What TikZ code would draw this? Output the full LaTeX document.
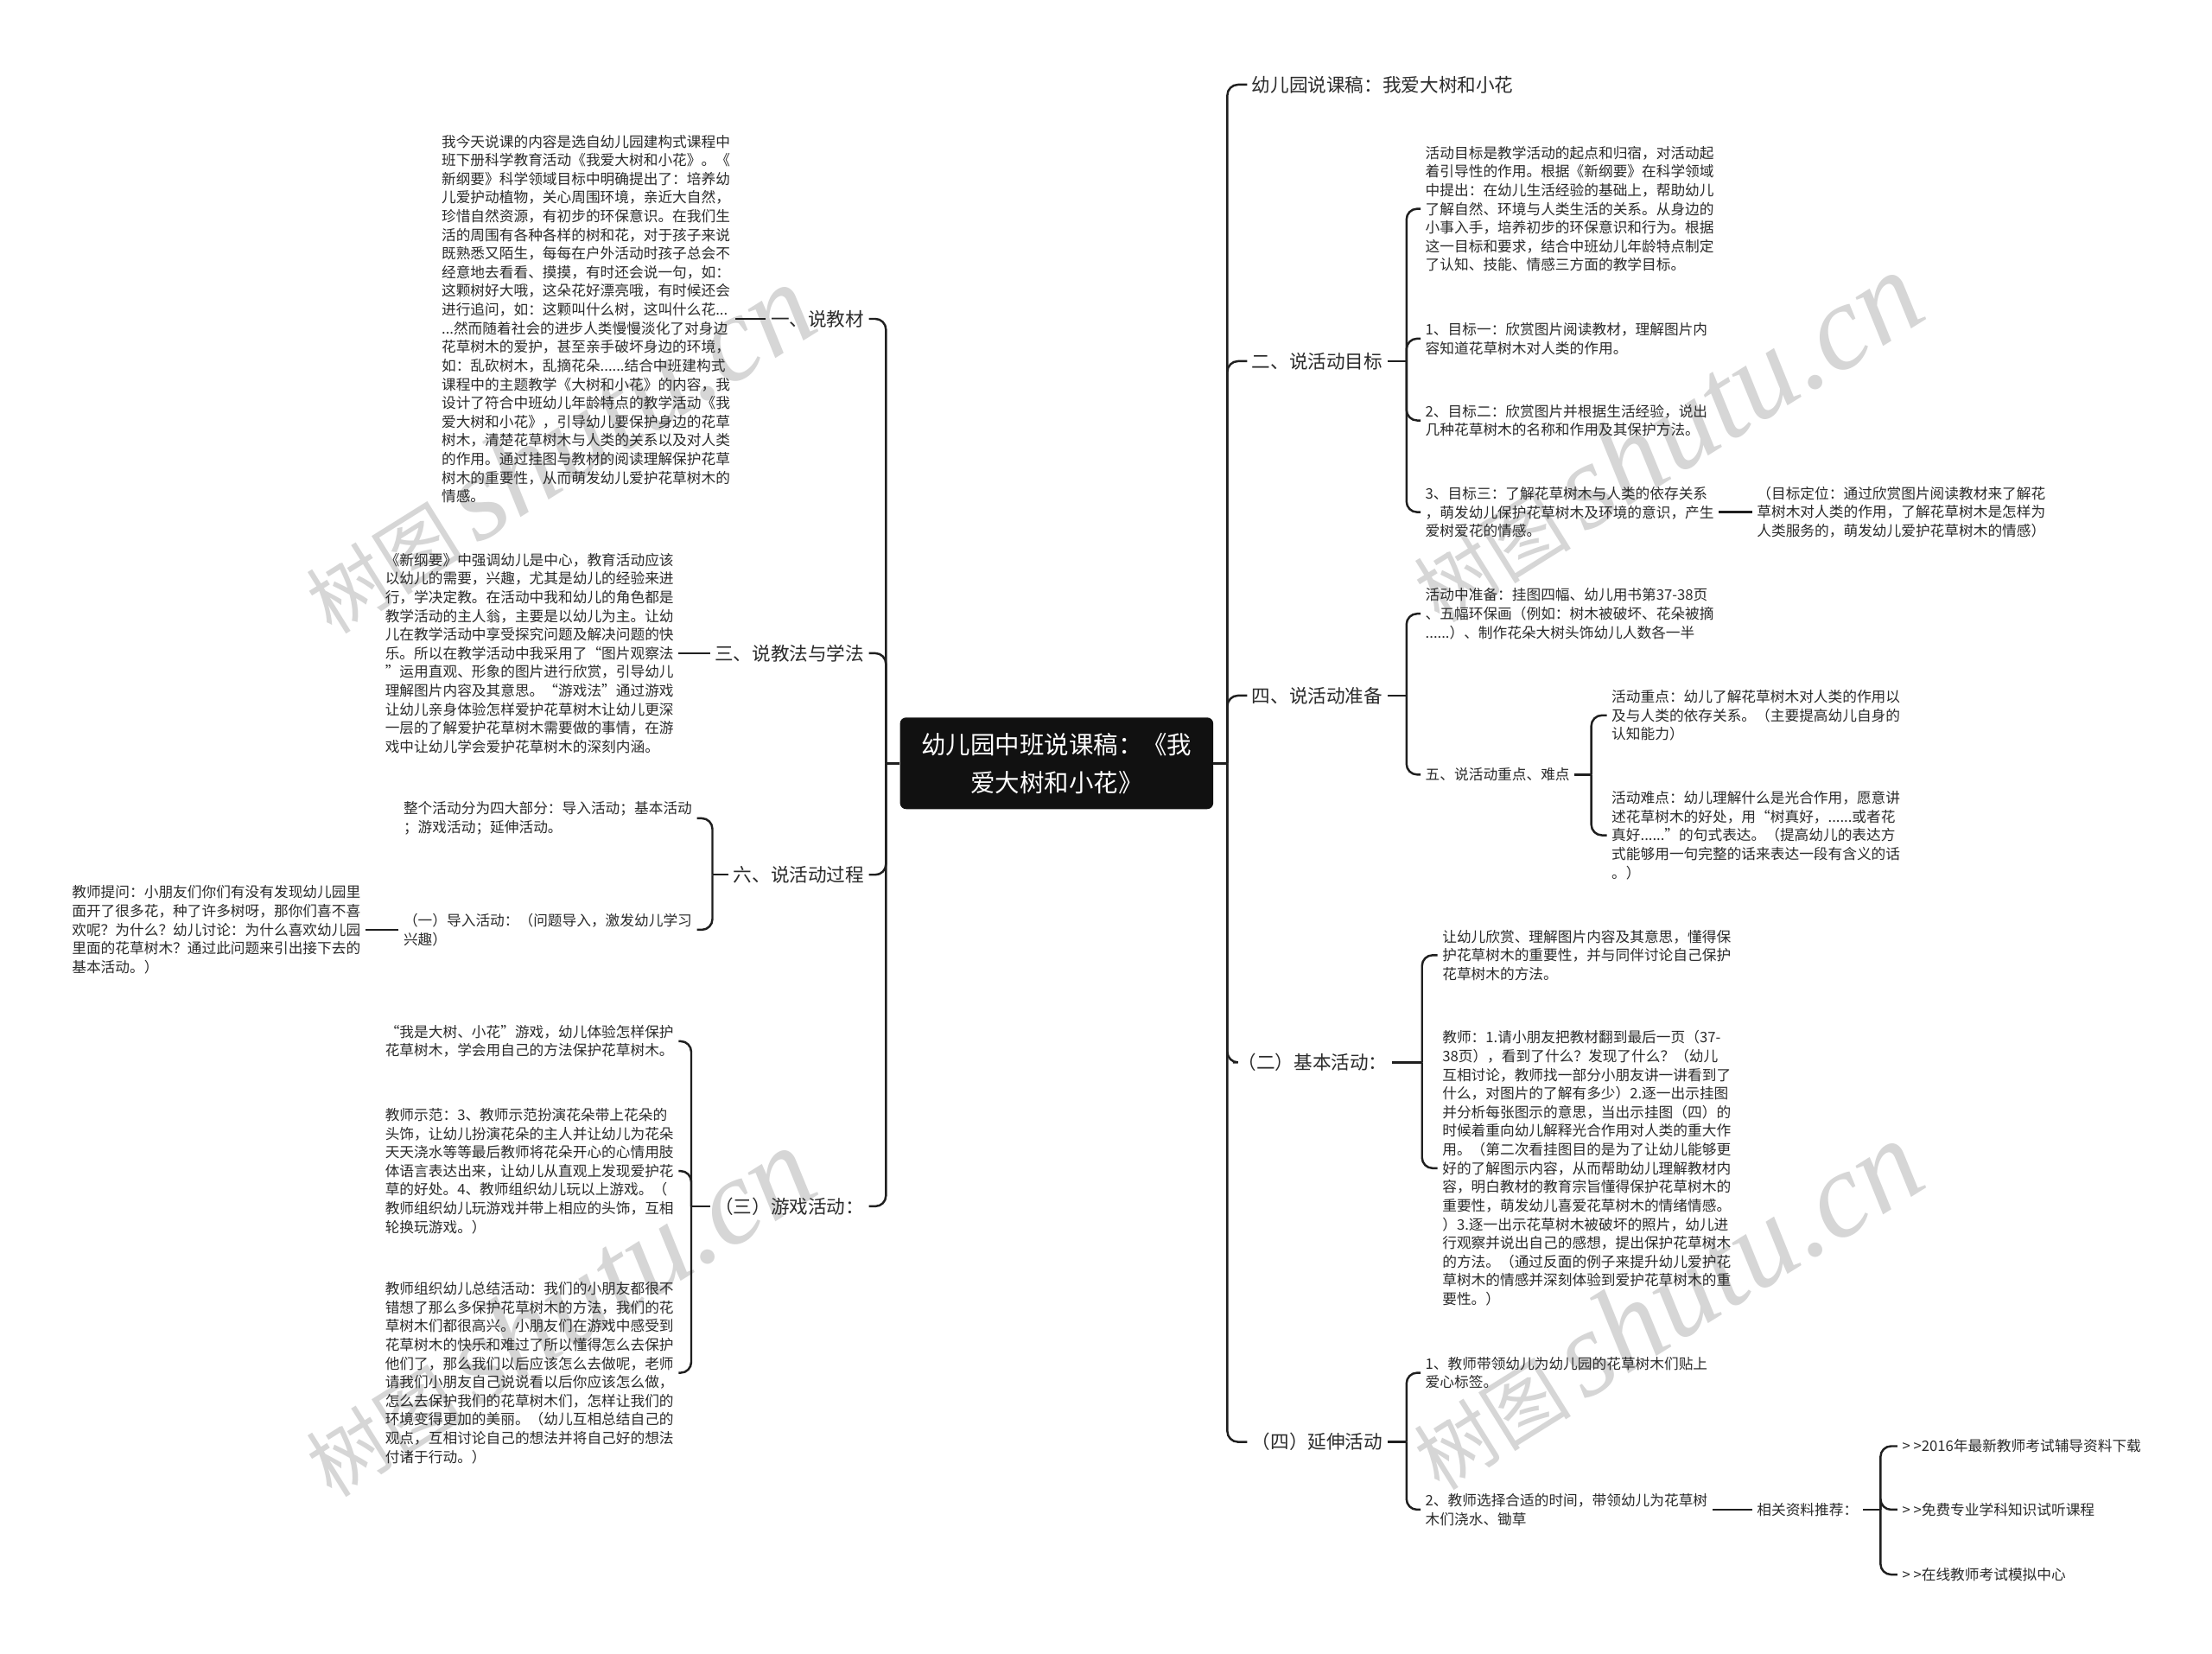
\documentclass[tikz,border=0pt]{standalone}
\usepackage{fontspec}
\usepackage{tikz}
\usepackage{xcolor}
\setmainfont{Noto Sans CJK SC}
\newfontfamily\wmlatin{Liberation Serif}
\definecolor{inkline}{HTML}{1F1F1F}
\definecolor{inktext}{HTML}{2B2B2B}
\definecolor{rootfill}{HTML}{111111}
\definecolor{wmgray}{HTML}{D6D6D6}

\tikzset{
  link/.style={draw=inkline, line width=1.4pt, rounded corners=7pt},
  root/.style={fill=rootfill, rounded corners=4pt, text=white, align=center,
    minimum width=7.25cm, minimum height=2.12cm, font=\fontsize{16.2pt}{25pt}\selectfont},
  topic/.style={text=inktext, inner xsep=3pt, inner ysep=1pt, font=\fontsize{12.3pt}{15pt}\selectfont},
  leaf/.style={text=inktext, align=left, inner xsep=3pt, inner ysep=1pt, font=\fontsize{9.5pt}{12.3pt}\selectfont},
  wmtext/.style={text=wmgray, rotate=32, inner sep=0pt}
}

\begin{document}
\begin{tikzpicture}[x=0.032654cm, y=-0.032654cm]
\fill[white] (0,0) rectangle (1568,1172);
\useasboundingbox (0,0) rectangle (1568,1172);

\foreach \wx/\wy/\wn in {395/318/1, 1180/310/2, 395/930/3, 1180/925/4}
  \node[wmtext] (wm\wn) at (\wx,\wy) {\fontsize{52pt}{52pt}\selectfont 树图\,{\wmlatin\itshape\fontsize{80pt}{80pt}\selectfont shutu.cn}};

\node[root] (root) at (749,541) {幼儿园中班说课稿：《我\\爱大树和小花》};

% right side
\node[topic, anchor=west] (r1) at (884,60) {幼儿园说课稿：我爱大树和小花};
\node[topic, anchor=west] (r2) at (884,256) {二、说活动目标};
\node[topic, anchor=west] (r3) at (884,493) {四、说活动准备};
\node[topic, anchor=west] (r4) at (874,753) {（二）基本活动：};
\node[topic, anchor=west] (r5) at (884,1022) {（四）延伸活动};

\node[leaf, anchor=west] (r2a) at (1007,148) {活动目标是教学活动的起点和归宿，对活动起\\着引导性的作用。根据《新纲要》在科学领域\\中提出：在幼儿生活经验的基础上，帮助幼儿\\了解自然、环境与人类生活的关系。从身边的\\小事入手，培养初步的环保意识和行为。根据\\这一目标和要求，结合中班幼儿年龄特点制定\\了认知、技能、情感三方面的教学目标。};
\node[leaf, anchor=west] (r2b) at (1007,240) {1、目标一：欣赏图片阅读教材，理解图片内\\容知道花草树木对人类的作用。};
\node[leaf, anchor=west] (r2c) at (1007,298) {2、目标二：欣赏图片并根据生活经验，说出\\几种花草树木的名称和作用及其保护方法。};
\node[leaf, anchor=west] (r2d) at (1007,363) {3、目标三：了解花草树木与人类的依存关系\\，萌发幼儿保护花草树木及环境的意识，产生\\爱树爱花的情感。};
\node[leaf, anchor=west] (r2d1) at (1242,363) {（目标定位：通过欣赏图片阅读教材来了解花\\草树木对人类的作用，了解花草树木是怎样为\\人类服务的，萌发幼儿爱护花草树木的情感）};

\node[leaf, anchor=west] (r3a) at (1007,435) {活动中准备：挂图四幅、幼儿用书第37-38页\\、五幅环保画（例如：树木被破坏、花朵被摘\\......）、制作花朵大树头饰幼儿人数各一半};
\node[leaf, anchor=west] (r3b) at (1007,549) {五、说活动重点、难点};
\node[leaf, anchor=west] (r3b1) at (1139,507) {活动重点：幼儿了解花草树木对人类的作用以\\及与人类的依存关系。（主要提高幼儿自身的\\认知能力）};
\node[leaf, anchor=west] (r3b2) at (1139,592) {活动难点：幼儿理解什么是光合作用，愿意讲\\述花草树木的好处，用“树真好，......或者花\\真好......”的句式表达。（提高幼儿的表达方\\式能够用一句完整的话来表达一段有含义的话\\。）};

\node[leaf, anchor=west] (r4a) at (1019,677) {让幼儿欣赏、理解图片内容及其意思，懂得保\\护花草树木的重要性，并与同伴讨论自己保护\\花草树木的方法。};
\node[leaf, anchor=west] (r4b) at (1019,828) {教师：1.请小朋友把教材翻到最后一页（37-\\38页），看到了什么？发现了什么？（幼儿\\互相讨论，教师找一部分小朋友讲一讲看到了\\什么，对图片的了解有多少）2.逐一出示挂图\\并分析每张图示的意思，当出示挂图（四）的\\时候着重向幼儿解释光合作用对人类的重大作\\用。（第二次看挂图目的是为了让幼儿能够更\\好的了解图示内容，从而帮助幼儿理解教材内\\容，明白教材的教育宗旨懂得保护花草树木的\\重要性，萌发幼儿喜爱花草树木的情绪情感。\\）3.逐一出示花草树木被破坏的照片，幼儿进\\行观察并说出自己的感想，提出保护花草树木\\的方法。（通过反面的例子来提升幼儿爱护花\\草树木的情感并深刻体验到爱护花草树木的重\\要性。）};

\node[leaf, anchor=west] (r5a) at (1007,973) {1、教师带领幼儿为幼儿园的花草树木们贴上\\爱心标签。};
\node[leaf, anchor=west] (r5b) at (1007,1070) {2、教师选择合适的时间，带领幼儿为花草树\\木们浇水、锄草};
\node[leaf, anchor=west] (r5b1) at (1242,1070) {相关资料推荐：};
\node[leaf, anchor=west] (r5l1) at (1345,1025) {> >2016年最新教师考试辅导资料下载};
\node[leaf, anchor=west] (r5l2) at (1345,1070) {> >免费专业学科知识试听课程};
\node[leaf, anchor=west] (r5l3) at (1345,1116) {> >在线教师考试模拟中心};

% left side
\node[topic, anchor=east] (l1) at (616,226) {一、说教材};
\node[topic, anchor=east] (l2) at (616,463) {三、说教法与学法};
\node[topic, anchor=east] (l3) at (616,620) {六、说活动过程};
\node[topic, anchor=east] (l4) at (616,855) {（三）游戏活动：};

\node[leaf, anchor=east] (l1a) at (521,226) {我今天说课的内容是选自幼儿园建构式课程中\\班下册科学教育活动《我爱大树和小花》。《\\新纲要》科学领域目标中明确提出了：培养幼\\儿爱护动植物，关心周围环境，亲近大自然，\\珍惜自然资源，有初步的环保意识。在我们生\\活的周围有各种各样的树和花，对于孩子来说\\既熟悉又陌生，每每在户外活动时孩子总会不\\经意地去看看、摸摸，有时还会说一句，如：\\这颗树好大哦，这朵花好漂亮哦，有时候还会\\进行追问，如：这颗叫什么树，这叫什么花...\\...然而随着社会的进步人类慢慢淡化了对身边\\花草树木的爱护，甚至亲手破坏身边的环境，\\如：乱砍树木，乱摘花朵......结合中班建构式\\课程中的主题教学《大树和小花》的内容，我\\设计了符合中班幼儿年龄特点的教学活动《我\\爱大树和小花》，引导幼儿要保护身边的花草\\树木，清楚花草树木与人类的关系以及对人类\\的作用。通过挂图与教材的阅读理解保护花草\\树木的重要性，从而萌发幼儿爱护花草树木的\\情感。};
\node[leaf, anchor=east] (l2a) at (481,463) {《新纲要》中强调幼儿是中心，教育活动应该\\以幼儿的需要，兴趣，尤其是幼儿的经验来进\\行，学决定教。在活动中我和幼儿的角色都是\\教学活动的主人翁，主要是以幼儿为主。让幼\\儿在教学活动中享受探究问题及解决问题的快\\乐。所以在教学活动中我采用了“图片观察法\\”运用直观、形象的图片进行欣赏，引导幼儿\\理解图片内容及其意思。“游戏法”通过游戏\\让幼儿亲身体验怎样爱护花草树木让幼儿更深\\一层的了解爱护花草树木需要做的事情，在游\\戏中让幼儿学会爱护花草树木的深刻内涵。};

\node[leaf, anchor=east] (l3a) at (494,580) {整个活动分为四大部分：导入活动；基本活动\\；游戏活动；延伸活动。};
\node[leaf, anchor=east] (l3b) at (494,659) {（一）导入活动：（问题导入，激发幼儿学习\\兴趣）};
\node[leaf, anchor=east] (l3b1) at (259,659) {教师提问：小朋友们你们有没有发现幼儿园里\\面开了很多花，种了许多树呀，那你们喜不喜\\欢呢？为什么？幼儿讨论：为什么喜欢幼儿园\\里面的花草树木？通过此问题来引出接下去的\\基本活动。）};

\node[leaf, anchor=east] (l4a) at (481,738) {“我是大树、小花”游戏，幼儿体验怎样保护\\花草树木，学会用自己的方法保护花草树木。};
\node[leaf, anchor=east] (l4b) at (481,830) {教师示范：3、教师示范扮演花朵带上花朵的\\头饰，让幼儿扮演花朵的主人并让幼儿为花朵\\天天浇水等等最后教师将花朵开心的心情用肢\\体语言表达出来，让幼儿从直观上发现爱护花\\草的好处。4、教师组织幼儿玩以上游戏。（\\教师组织幼儿玩游戏并带上相应的头饰，互相\\轮换玩游戏。）};
\node[leaf, anchor=east] (l4c) at (481,973) {教师组织幼儿总结活动：我们的小朋友都很不\\错想了那么多保护花草树木的方法，我们的花\\草树木们都很高兴。小朋友们在游戏中感受到\\花草树木的快乐和难过了所以懂得怎么去保护\\他们了，那么我们以后应该怎么去做呢，老师\\请我们小朋友自己说说看以后你应该怎么做，\\怎么去保护我们的花草树木们，怎样让我们的\\环境变得更加的美丽。（幼儿互相总结自己的\\观点，互相讨论自己的想法并将自己好的想法\\付诸于行动。）};

% connectors
\coordinate (rtrunk) at (870,541);
\coordinate (ltrunk) at (628,541);
\draw[link] (root.east) -- (rtrunk);
\draw[link] (root.west) -- (ltrunk);
\foreach \n in {r1,r2,r3,r4,r5} \draw[link] (rtrunk) |- (\n.west);
\foreach \n in {l1,l2,l3,l4} \draw[link] (ltrunk) |- (\n.east);

\coordinate (br2) at (997,256);
\draw[link] (r2.east) -- (br2);
\foreach \n in {r2a,r2b,r2c,r2d} \draw[link] (br2) |- (\n.west);
\draw[link] (r2d.east) -- (r2d1.west);

\coordinate (br3) at (997,493);
\draw[link] (r3.east) -- (br3);
\foreach \n in {r3a,r3b} \draw[link] (br3) |- (\n.west);
\coordinate (br3b) at (1128,549);
\draw[link] (r3b.east) -- (br3b);
\foreach \n in {r3b1,r3b2} \draw[link] (br3b) |- (\n.west);

\coordinate (br4) at (1008,753);
\draw[link] (r4.east) -- (br4);
\foreach \n in {r4a,r4b} \draw[link] (br4) |- (\n.west);

\coordinate (br5) at (997,1022);
\draw[link] (r5.east) -- (br5);
\foreach \n in {r5a,r5b} \draw[link] (br5) |- (\n.west);
\draw[link] (r5b.east) -- (r5b1.west);
\coordinate (br5b) at (1333,1070);
\draw[link] (r5b1.east) -- (br5b);
\foreach \n in {r5l1,r5l2,r5l3} \draw[link] (br5b) |- (\n.west);

\draw[link] (l1.west) -- (l1a.east);
\draw[link] (l2.west) -- (l2a.east);

\coordinate (bl3) at (505,620);
\draw[link] (l3.west) -- (bl3);
\foreach \n in {l3a,l3b} \draw[link] (bl3) |- (\n.east);
\draw[link] (l3b.west) -- (l3b1.east);

\coordinate (bl4) at (490,855);
\draw[link] (l4.west) -- (bl4);
\foreach \n in {l4a,l4b,l4c} \draw[link] (bl4) |- (\n.east);
\end{tikzpicture}
\end{document}
